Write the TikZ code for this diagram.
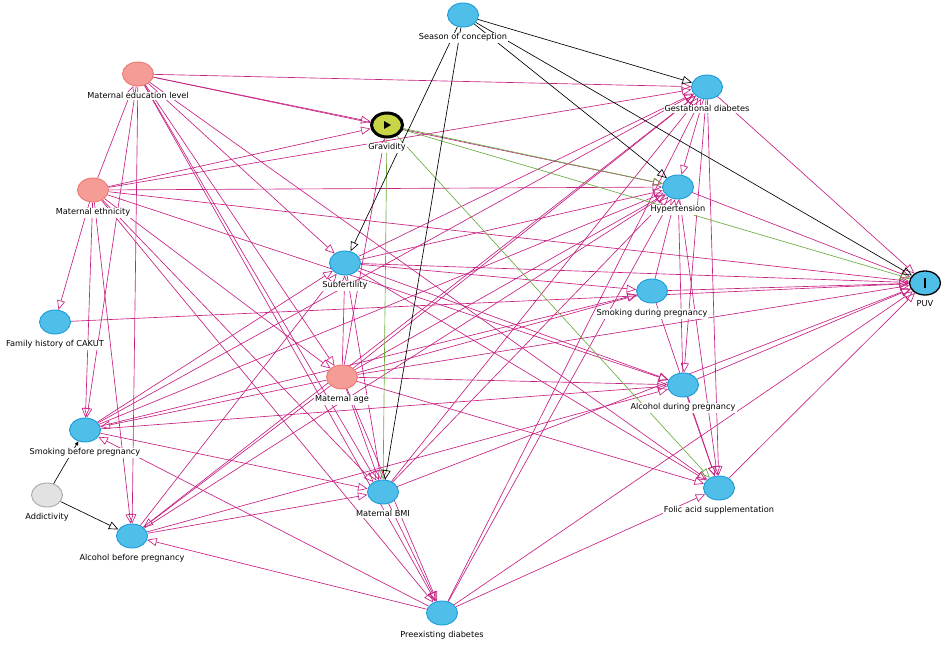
\documentclass[tikz,border=0pt]{standalone}
\usepackage{fontspec}
\setmainfont{DejaVu Sans}
\usetikzlibrary{shapes.geometric,arrows.meta,positioning}
\pgfdeclarelayer{bg}
\pgfsetlayers{bg,main}

\definecolor{dagblue}{RGB}{79,190,233}
\definecolor{dagblueline}{RGB}{28,155,215}
\definecolor{dagpink}{RGB}{246,156,150}
\definecolor{dagpinkline}{RGB}{236,120,114}
\definecolor{daggrey}{RGB}{226,226,226}
\definecolor{daggreyline}{RGB}{168,168,168}
\definecolor{dagyellow}{RGB}{200,214,70}
\definecolor{biasline}{RGB}{198,32,130}
\definecolor{causalline}{RGB}{104,172,62}

\tikzset{
  var/.style={ellipse, draw=dagblueline, fill=dagblue, line width=0.9pt,
    minimum width=31pt, minimum height=24pt, inner sep=0pt},
  anc/.style={var, draw=dagpinkline, fill=dagpink},
  other/.style={var, draw=daggreyline, fill=daggrey},
  lbl/.style={fill=white, inner sep=1pt, font=\fontsize{8.2}{10}\selectfont},
  tip/.style={-{Triangle[open,length=9.5pt,width=8pt]}},
  biasedge/.style={tip, draw=biasline, line width=0.65pt},
  causaledge/.style={tip, draw=causalline, line width=0.65pt},
  plainedge/.style={tip, draw=black, line width=0.65pt},
}

\begin{document}
\begin{tikzpicture}[x=1pt,y=-1pt]
  \useasboundingbox (0,0) rectangle (945,645);

  % variables
  \node[var] (sc) at (463,15) {};
  \node[anc] (edu) at (138,74) {};
  \node[var, draw=black, line width=3pt, fill=dagyellow,
    path picture={\fill[black] ([xshift=-3pt,yshift=4pt]path picture bounding box.center)
      -- ++(7pt,-4pt) -- ++(-7pt,-4pt) -- cycle;}] (gra) at (387,125) {};
  \node[var] (gd) at (707,87) {};
  \node[anc] (eth) at (93,190) {};
  \node[var] (ht) at (678,187) {};
  \node[var] (sub) at (345,263) {};
  \node[var] (fam) at (55,322) {};
  \node[var] (sdp) at (652,291) {};
  \node[var, draw=black, line width=1.3pt,
    path picture={\fill[black] ([xshift=-1.3pt,yshift=-5pt]path picture bounding box.center)
      rectangle ++(2.6pt,10pt);}] (puv) at (925,283) {};
  \node[anc] (age) at (342,377) {};
  \node[var] (adp) at (683,385) {};
  \node[var] (sbp) at (85,430) {};
  \node[other] (add) at (47,495) {};
  \node[var] (bmi) at (383,492) {};
  \node[var] (fol) at (719,488) {};
  \node[var] (abp) at (132,536) {};
  \node[var] (pd) at (442,613) {};

  % labels
  \node[lbl, below=5pt of sc] (sc-t) {Season of conception};
  \node[lbl, below=5pt of edu] (edu-t) {Maternal education level};
  \node[lbl, below=4pt of gra] (gra-t) {Gravidity};
  \node[lbl, below=5pt of gd] (gd-t) {Gestational diabetes};
  \node[lbl, below=5pt of eth] (eth-t) {Maternal ethnicity};
  \node[lbl, below=5pt of ht] (ht-t) {Hypertension};
  \node[lbl, below=5pt of sub] (sub-t) {Subfertility};
  \node[lbl, below=5pt of fam] (fam-t) {Family history of CAKUT};
  \node[lbl, below=5pt of sdp] (sdp-t) {Smoking during pregnancy};
  \node[lbl, below=4pt of puv] (puv-t) {PUV};
  \node[lbl, below=5pt of age] (age-t) {Maternal age};
  \node[lbl, below=5pt of adp] (adp-t) {Alcohol during pregnancy};
  \node[lbl, below=5pt of sbp] (sbp-t) {Smoking before pregnancy};
  \node[lbl, below=5pt of add] (add-t) {Addictivity};
  \node[lbl, below=5pt of bmi] (bmi-t) {Maternal BMI};
  \node[lbl, below=5pt of fol] (fol-t) {Folic acid supplementation};
  \node[lbl, below=5pt of abp] (abp-t) {Alcohol before pregnancy};
  \node[lbl, below=5pt of pd] (pd-t) {Preexisting diabetes};

  % arrows
  \begin{pgfonlayer}{bg}
    \foreach \a/\b in {edu/gd, edu/gra, edu/ht, edu/sub, edu/age, edu/bmi, edu/pd, edu/fol,
        edu/sbp, edu/abp,
        eth/edu, eth/gra, eth/gd, eth/ht, eth/puv, eth/adp, eth/fam, eth/sbp, eth/abp,
        eth/bmi, eth/pd, eth/age,
        age/gra, age/sub, age/sbp, age/abp, age/bmi, age/pd, age/gd, age/ht, age/sdp,
        age/adp, age/fol, age/puv,
        sub/gd, sub/ht, sub/sdp, sub/adp, sub/fol, sub/puv, sub/bmi,
        sbp/sub, sbp/gd, sbp/ht, sbp/sdp, sbp/bmi, sbp/adp,
        abp/bmi, abp/adp, abp/sub, abp/ht, abp/gd,
        bmi/gd, bmi/ht, bmi/pd, bmi/puv,
        pd/sbp, pd/abp, pd/gd, pd/ht, pd/fol, pd/puv,
        gd/ht, gd/puv, gd/fol, gd/adp,
        sdp/ht, adp/ht, ht/puv, ht/fol,
        sdp/puv, sdp/fol, adp/puv, adp/fol, fol/puv, fam/puv}
      \draw[biasedge] (\a) -- (\b);
    \foreach \b in {ht, puv, bmi, fol}
      \draw[causaledge] (gra) -- (\b);
    \foreach \b in {gd, ht, puv, sub, bmi}
      \draw[plainedge] (sc) -- (\b);
    \draw[plainedge] (add) -- (abp);
    \draw[line width=0.65pt, -{Triangle[length=4pt,width=3.5pt]}] (add) -- (sbp);
  \end{pgfonlayer}
\end{tikzpicture}
\end{document}
